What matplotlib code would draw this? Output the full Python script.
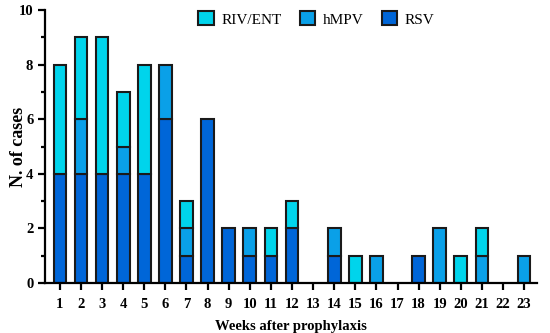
# stacked bar chart of viral cases per week after prophylaxis

import matplotlib.pyplot as plt
import numpy as np

weeks = list(range(1, 24))
rsv = [4, 4, 4, 4, 4, 6, 1, 6, 2, 1, 1, 2, 0, 1, 0, 0, 0, 1, 0, 0, 0, 0, 0]
hmpv = [0, 2, 0, 1, 0, 2, 1, 0, 0, 1, 0, 0, 0, 1, 0, 1, 0, 0, 2, 0, 1, 0, 1]
riv_ent = [4, 3, 5, 2, 4, 0, 1, 0, 0, 0, 1, 1, 0, 0, 1, 0, 0, 0, 0, 1, 1, 0, 0]

plt.rcParams['font.family'] = ['Liberation Serif', 'DejaVu Serif']
plt.rcParams['font.weight'] = 'bold'

fig = plt.figure(figsize=(5.5, 3.33), dpi=100)
ax = fig.add_axes([0.082, 0.15, 0.894, 0.82])

c_rsv = '#0066d8'
c_hmpv = '#0aa0e8'
c_riv = '#00d4ec'
kw = dict(width=0.6, edgecolor='#1a1a1a', linewidth=1.5)

rsv = np.array(rsv)
hmpv = np.array(hmpv)
riv_ent = np.array(riv_ent)

# zero-height segments get skipped so they don't draw a stray outline
def bars(bottom, vals, color, label):
    m = vals > 0
    x = np.array(weeks)[m]
    ax.bar(x, vals[m], bottom=bottom[m], color=color, label=label, **kw)

bars(np.zeros(23), rsv, c_rsv, 'RSV')
bars(rsv, hmpv, c_hmpv, 'hMPV')
bars(rsv + hmpv, riv_ent, c_riv, 'RIV/ENT')

ax.set_xlim(0.3, 23.6)
ax.set_ylim(0, 10)
ax.set_xticks(weeks)
ax.set_yticks([0, 2, 4, 6, 8, 10])
ax.set_yticks([1, 3, 5, 7, 9], minor=True)
ax.spines['top'].set_visible(False)
ax.spines['right'].set_visible(False)
ax.spines['left'].set_linewidth(1.6)
ax.spines['bottom'].set_linewidth(1.6)
ax.tick_params(axis='both', which='major', width=1.6, length=5, labelsize=10.5)
ax.tick_params(axis='y', which='minor', width=1.6, length=3)
ax.tick_params(axis='x', pad=6)

ax.set_xlabel('Weeks after prophylaxis', fontsize=10.5, fontweight='bold', labelpad=6)
ax.set_ylabel('N. of cases', fontsize=13, fontweight='bold', va='center')
ax.yaxis.set_label_coords(-0.055, 0.5)

h, l = ax.get_legend_handles_labels()
ax.legend(h[::-1], l[::-1], ncol=3, frameon=False, loc='upper right',
          bbox_to_anchor=(0.82, 1.045), handlelength=1.0,
          handleheight=1.0, columnspacing=1.2, handletextpad=0.5,
          prop={'weight': 'normal', 'size': 11})

fig.savefig('out.png', dpi=100)
